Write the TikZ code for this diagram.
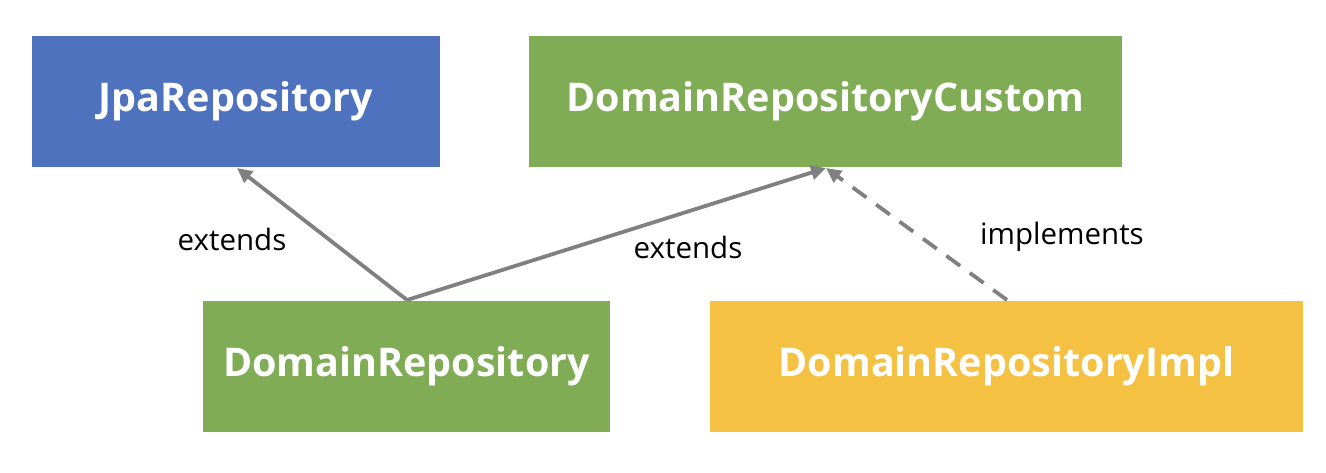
\documentclass[tikz,border=0pt]{standalone}
\usepackage{fontspec}
\setmainfont{Open Sans}
\usetikzlibrary{arrows.meta}
\definecolor{cblue}{HTML}{4F72BE}
\definecolor{cgreen}{HTML}{7FAC55}
\definecolor{cyellow}{HTML}{F4C142}
\definecolor{cline}{HTML}{808080}
\tikzset{
  box/.style={draw=none, minimum width=#1, minimum height=131pt, inner sep=0pt,
    text=white, font=\fontsize{39.5}{46}\selectfont\bfseries},
  conn/.style={draw=cline, line width=3.8pt, -{Triangle[length=15pt,width=14pt]}},
  lbl/.style={font=\fontsize{29.5}{34}\selectfont, text=black}
}
\begin{document}
\begin{tikzpicture}[x=1pt,y=-1pt]
\useasboundingbox (0,0) rectangle (1326,472);
\node[box=408pt, fill=cblue] (jpa) at (236,101.5) {JpaRepository};
\node[box=593pt, fill=cgreen] (custom) at (825.5,101.5) {DomainRepositoryCustom};
\node[box=407pt, fill=cgreen] (repo) at (406.5,366.5) {DomainRepository};
\node[box=593pt, fill=cyellow] (impl) at (1006.5,366.5) {DomainRepositoryImpl};
\coordinate (repotop) at (407,300);
\coordinate (impltop) at (1007,300);
\coordinate (jpabot) at (237,168);
\coordinate (custbot) at (826,168);
\draw[conn] (repotop) -- (jpabot);
\draw[conn] (repotop) -- (custbot);
\draw[conn, dash pattern=on 17pt off 12pt] (impltop) -- (custbot);
\node[lbl] (l1) at (232,239) {extends};
\node[lbl] (l2) at (688,247) {extends};
\node[lbl] (l3) at (1062,237) {implements};
\end{tikzpicture}
\end{document}
